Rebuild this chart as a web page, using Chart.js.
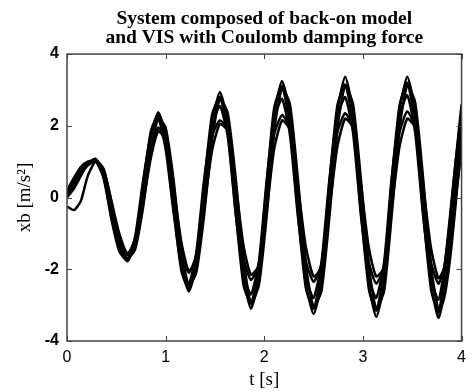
<!DOCTYPE html>
<html>
<head>
<meta charset="utf-8">
<script src="https://cdn.jsdelivr.net/npm/chart.js@4"></script>
<style>
  body { margin: 0; background: #fff; }
  #wrap { width: 473px; height: 392px; position: relative; }
</style>
</head>
<body>
<div id="wrap"><canvas id="xbChart"></canvas></div>
<script>
// time points (s), picked at peaks / troughs and between
const time = [0, 0.07, 0.14, 0.21, 0.29,
  0.37, 0.45, 0.53, 0.61,
  0.69, 0.77, 0.85, 0.925,
  1.00, 1.08, 1.16, 1.235,
  1.31, 1.39, 1.47, 1.55,
  1.63, 1.71, 1.79, 1.865,
  1.945, 2.025, 2.10, 2.18,
  2.26, 2.34, 2.42, 2.50,
  2.58, 2.66, 2.74, 2.82,
  2.90, 2.98, 3.06, 3.135,
  3.215, 3.29, 3.37, 3.45,
  3.53, 3.61, 3.69, 3.765,
  3.82, 3.88, 3.94, 4.0];

// xb [m/s^2] for each run
const runA = [0.15, 0.45, 0.75, 0.95, 1.08,
  0.7, -0.35, -1.3, -1.78,
  -1.3, 0.1, 1.65, 2.38,
  1.75, 0.05, -1.85, -2.62,
  -1.9, 0.1, 2.05, 2.94,
  2.1, -0.05, -2.2, -3.1,
  -2.25, 0.05, 2.3, 3.25,
  2.35, 0.0, -2.35, -3.25,
  -2.35, 0.05, 2.4, 3.37,
  2.4, 0.0, -2.4, -3.33,
  -2.4, 0.0, 2.4, 3.37,
  2.4, 0.0, -2.4, -3.35,
  -2.75, -1.3, 0.4, 2.1];
const runB = [0.05, 0.3, 0.65, 0.9, 1.05,
  0.8, -0.1, -1.1, -1.7,
  -1.45, -0.3, 1.3, 2.2,
  1.95, 0.5, -1.5, -2.45,
  -2.1, -0.5, 1.6, 2.75,
  2.35, 0.55, -1.7, -2.95,
  -2.45, -0.5, 1.85, 3.05,
  2.6, 0.55, -1.85, -3.05,
  -2.6, -0.55, 1.9, 3.12,
  2.6, 0.5, -1.9, -3.1,
  -2.6, -0.55, 1.9, 3.12,
  2.65, 0.55, -1.9, -3.12,
  -2.85, -1.8, -0.2, 1.6];
const runC = [-0.25, -0.35, -0.1, 0.6, 1.0,
  0.55, -0.55, -1.4, -1.72,
  -1.1, 0.45, 1.75, 2.2,
  1.35, -0.4, -1.95, -2.4,
  -1.55, 0.5, 2.0, 2.55,
  1.7, -0.45, -2.15, -2.7,
  -1.8, 0.5, 2.2, 2.75,
  1.75, -0.5, -2.2, -2.8,
  -1.8, 0.5, 2.25, 2.8,
  1.8, -0.5, -2.25, -2.8,
  -1.8, 0.5, 2.25, 2.85,
  1.8, -0.5, -2.25, -2.85,
  -2.1, -0.6, 1.0, 2.4];
const runD = [0.2, 0.55, 0.85, 1.0, 1.02,
  0.6, -0.4, -1.2, -1.6,
  -1.15, 0.05, 1.4, 1.95,
  1.5, 0.1, -1.5, -2.1,
  -1.6, 0.0, 1.7, 2.15,
  1.9, 0.1, -1.7, -2.3,
  -1.85, 0.0, 1.75, 2.3,
  1.95, 0.05, -1.75, -2.35,
  -1.85, 0.0, 1.8, 2.35,
  1.95, 0.0, -1.8, -2.4,
  -1.9, 0.0, 1.8, 2.4,
  1.95, 0.0, -1.8, -2.4,
  -2.0, -0.8, 0.5, 1.8];
const runE = [0.1, 0.4, 0.7, 0.9, 1.0,
  0.8, -0.1, -1.0, -1.55,
  -1.3, -0.2, 1.1, 1.85,
  1.6, 0.3, -1.25, -2.05,
  -1.75, -0.3, 1.3, 2.05,
  1.85, 0.35, -1.35, -2.15,
  -1.9, -0.35, 1.35, 2.15,
  1.9, 0.35, -1.35, -2.2,
  -1.95, -0.35, 1.4, 2.2,
  1.95, 0.35, -1.4, -2.2,
  -1.95, -0.35, 1.4, 2.2,
  1.95, 0.35, -1.4, -2.25,
  -2.0, -1.2, 0.0, 1.3];
const runF = [0.0, 0.25, 0.6, 0.95, 1.07,
  0.6, -0.6, -1.5, -1.75,
  -1.2, 0.3, 1.85, 2.3,
  1.5, -0.3, -2.05, -2.55,
  -1.7, 0.35, 2.3, 2.8,
  1.85, -0.4, -2.45, -2.95,
  -2.0, 0.4, 2.5, 3.1,
  2.0, -0.4, -2.5, -3.1,
  -2.05, 0.4, 2.55, 3.15,
  2.05, -0.4, -2.55, -3.15,
  -2.05, 0.4, 2.55, 3.2,
  2.05, -0.4, -2.55, -3.2,
  -2.3, -0.7, 1.0, 2.6];

const runs = [runA, runB, runC, runD, runE, runF];
const titleLines = ['System composed of back-on model', 'and VIS with Coulomb damping force'];

const toPoints = (ys) => ys.map((y, i) => ({ x: time[i], y: y }));

// box around plot with ticks pointing inward
const boxTicks = {
  id: 'boxTicks',
  afterDraw(chart) {
    const { ctx, chartArea: a, scales } = chart;
    ctx.save();
    ctx.strokeStyle = '#444';
    ctx.lineWidth = 1.5;
    ctx.strokeRect(a.left, a.top, a.right - a.left, a.bottom - a.top);
    ctx.lineWidth = 1;
    const len = 5;
    scales.x.ticks.forEach(t => {
      const px = Math.round(scales.x.getPixelForValue(t.value)) + 0.5;
      ctx.beginPath();
      ctx.moveTo(px, a.bottom); ctx.lineTo(px, a.bottom - len);
      ctx.moveTo(px, a.top); ctx.lineTo(px, a.top + len);
      ctx.stroke();
    });
    scales.y.ticks.forEach(t => {
      const py = Math.round(scales.y.getPixelForValue(t.value)) + 0.5;
      ctx.beginPath();
      ctx.moveTo(a.left, py); ctx.lineTo(a.left + len, py);
      ctx.moveTo(a.right, py); ctx.lineTo(a.right - len, py);
      ctx.stroke();
    });
    ctx.restore();
  }
};

const ctx = document.getElementById('xbChart').getContext('2d');
const chart = new Chart(ctx, {
  type: 'line',
  data: {
    datasets: runs.map(r => ({
      data: toPoints(r),
      borderColor: '#000',
      borderWidth: 2.5,
      pointRadius: 0,
      fill: false,
      tension: 0.2
    }))
  },
  options: {
    responsive: true,
    maintainAspectRatio: false,
    animation: false,
    layout: { padding: { left: 0, right: 4, top: 0, bottom: 0 } },
    plugins: {
      legend: { display: false },
      tooltip: { enabled: false },
      title: {
        display: true,
        text: titleLines,
        fullSize: false,
        color: '#000',
        font: { family: '"Liberation Serif", serif', size: 19.5, weight: 'bold', lineHeight: 0.95 },
        padding: { top: 10, bottom: 7 }
      }
    },
    scales: {
      x: {
        type: 'linear',
        min: 0,
        max: 4,
        ticks: { stepSize: 1, color: '#000', padding: 7, font: { family: '"Liberation Sans", sans-serif', size: 16 } },
        grid: { display: false, drawTicks: false },
        border: { display: false },
        title: { display: true, text: 't [s]', color: '#000', padding: { top: 0, bottom: 1 },
                 font: { family: '"Liberation Serif", serif', size: 19 } },
        afterFit(scale) { scale.height = 51; }
      },
      y: {
        min: -4,
        max: 4,
        ticks: { stepSize: 2, color: '#000', padding: 8, font: { family: '"Liberation Sans", sans-serif', size: 16, weight: 'bold' } },
        grid: { display: false, drawTicks: false },
        border: { display: false },
        title: { display: true, text: 'xb [m/s²]', color: '#000', padding: { top: 14, bottom: 0 },
                 font: { family: '"Liberation Serif", serif', size: 19 } },
        afterFit(scale) { scale.width = 67; }
      }
    }
  },
  plugins: [boxTicks]
});
</script>
</body>
</html>
